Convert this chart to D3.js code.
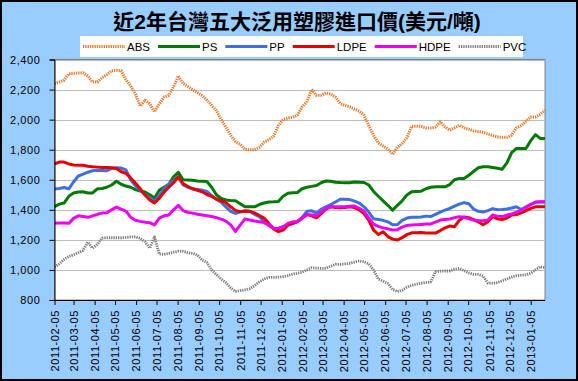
<!DOCTYPE html>
<html><head><meta charset="utf-8">
<script src="https://cdn.jsdelivr.net/npm/d3@7"></script>
<style>
body{margin:0;background:#fff}
svg{display:block}
text{font-family:Arial,"Liberation Sans","Noto Sans CJK TC",sans-serif;fill:#000}
</style>
</head><body>
<svg id="chart" width="578" height="381"></svg>
<script>
// ---------------- data ----------------
const chartTitle = "近2年台灣五大泛用塑膠進口價(美元/噸)";
const seriesNames = ["ABS","PS","PP","LDPE","HDPE","PVC"];
const firstWeek = "2011-02-05";   // weekly observations
const weekCount = 104;
const tickLabels = ["2011-02-05","2011-03-05","2011-04-05","2011-05-05","2011-06-05","2011-07-05",
  "2011-08-05","2011-09-05","2011-10-05","2011-11-05","2011-12-05","2012-01-05","2012-02-05",
  "2012-03-05","2012-04-05","2012-05-05","2012-06-05","2012-07-05","2012-08-05","2012-09-05",
  "2012-10-05","2012-11-05","2012-12-05","2013-01-05"];
const yTickValues = [800,1000,1200,1400,1600,1800,2000,2200,2400];

const ABS = [
2240,2250,2262,2305,2308,2310,2312,2290,2250,2250,
2280,2300,2325,2328,2325,2265,2225,2170,2090,2130,
2105,2052,2105,2150,2162,2218,2290,2240,2220,2200,
2180,2160,2130,2095,2060,2000,1950,1895,1855,1835,
1802,1800,1800,1815,1850,1865,1890,1960,2000,2010,
2015,2030,2085,2120,2200,2162,2162,2178,2170,2150,
2107,2095,2085,2070,2056,2030,1960,1895,1845,1825,
1805,1770,1815,1840,1880,1956,1956,1955,1945,1945,
1950,1985,1952,1930,1945,1963,1945,1935,1925,1920,
1915,1905,1895,1885,1882,1882,1897,1945,1960,1990,
2018,2018,2035,2063];
const PS = [
1420,1438,1445,1490,1512,1518,1520,1512,1512,1540,
1542,1550,1565,1590,1570,1558,1550,1535,1525,1518,
1500,1478,1530,1550,1570,1620,1650,1600,1598,1596,
1592,1590,1588,1550,1500,1475,1465,1462,1460,1440,
1420,1420,1420,1435,1445,1452,1453,1455,1490,1510,
1513,1515,1540,1550,1556,1562,1580,1592,1590,1583,
1581,1580,1580,1585,1584,1582,1565,1522,1490,1460,
1430,1398,1430,1460,1498,1520,1522,1524,1540,1550,
1553,1553,1553,1568,1600,1609,1609,1630,1655,1680,
1686,1686,1682,1676,1670,1712,1780,1808,1808,1808,
1860,1900,1875,1874];
const PP = [
1538,1542,1548,1540,1585,1625,1637,1650,1660,1663,
1662,1660,1675,1680,1678,1665,1600,1560,1530,1500,
1480,1455,1495,1540,1570,1595,1620,1565,1550,1540,
1535,1530,1522,1495,1470,1450,1420,1390,1376,1385,
1392,1390,1370,1355,1320,1295,1278,1276,1290,1300,
1308,1320,1350,1390,1393,1378,1405,1420,1435,1452,
1470,1470,1468,1458,1445,1420,1385,1340,1335,1330,
1320,1300,1302,1330,1345,1350,1350,1352,1358,1355,
1370,1385,1398,1409,1425,1438,1448,1440,1405,1390,
1385,1395,1408,1400,1402,1405,1412,1420,1402,1420,
1436,1450,1452,1452];
const LDPE = [
1705,1718,1718,1705,1698,1697,1696,1690,1686,1684,
1682,1681,1680,1675,1653,1642,1612,1578,1540,1498,
1465,1445,1476,1518,1550,1580,1620,1575,1555,1540,
1530,1520,1502,1490,1470,1460,1448,1420,1396,1388,
1392,1390,1380,1362,1345,1310,1272,1255,1265,1298,
1310,1322,1343,1368,1360,1347,1375,1405,1420,1416,
1413,1416,1420,1415,1400,1375,1330,1265,1236,1254,
1222,1205,1199,1215,1235,1247,1248,1249,1245,1245,
1245,1262,1280,1292,1288,1330,1352,1348,1335,1320,
1300,1320,1354,1340,1335,1345,1365,1368,1380,1395,
1410,1420,1420,1420];
const HDPE = [
1310,1313,1312,1310,1343,1360,1355,1350,1360,1370,
1378,1380,1400,1418,1405,1392,1350,1330,1323,1318,
1314,1300,1345,1360,1365,1400,1430,1395,1383,1378,
1370,1365,1360,1355,1348,1338,1325,1300,1256,1298,
1340,1332,1325,1320,1315,1300,1278,1276,1285,1310,
1320,1322,1345,1368,1365,1360,1385,1410,1420,1420,
1420,1420,1423,1425,1410,1390,1345,1305,1290,1280,
1274,1265,1268,1285,1296,1299,1301,1303,1305,1306,
1318,1332,1336,1339,1348,1354,1350,1340,1332,1328,
1327,1332,1365,1358,1355,1365,1372,1385,1395,1415,
1435,1452,1453,1453];
const PVC = [
1020,1040,1070,1090,1100,1115,1130,1185,1145,1170,
1212,1214,1214,1214,1214,1216,1220,1220,1210,1188,
1145,1220,1105,1104,1110,1118,1125,1124,1115,1110,
1100,1065,1050,1000,970,940,915,880,857,862,
868,875,895,920,940,950,950,952,955,962,
972,978,985,1000,1015,1012,1011,1011,1025,1037,
1037,1040,1044,1052,1060,1055,1040,1000,940,925,
910,870,856,865,885,898,906,911,916,920,
988,992,993,993,1005,1010,995,980,971,971,
960,912,912,915,928,940,952,962,965,968,
977,1000,1022,1015];

// ---------------- styles ----------------
const seriesValues = [ABS, PS, PP, LDPE, HDPE, PVC];
const seriesStyle = [
  {color:"#E47A2E", width:3, dash:"1.3 1"},
  {color:"#007A00", width:3, dash:null},
  {color:"#3D6FE0", width:3, dash:null},
  {color:"#E80000", width:3, dash:null},
  {color:"#F000F0", width:3, dash:null},
  {color:"#7D7D7D", width:2.8, dash:"1.3 1"}
];

const W = 578, H = 381;
const plot = {left:54.5, right:545, top:59.5, bottom:300};
const parse = d3.timeParse("%Y-%m-%d");
const t0 = parse(firstWeek);
const weeks = d3.range(weekCount).map(i => d3.timeDay.offset(t0, 7*i));

const svg = d3.select("#chart");
svg.append("rect").attr("x",1).attr("y",1).attr("width",W-2).attr("height",H-2)
  .attr("fill","#99CCFF").attr("stroke","#000").attr("stroke-width",2);

const x = d3.scaleTime().domain([weeks[0], weeks[weeks.length-1]]).range([plot.left, plot.right]);
const y = d3.scaleLinear().domain([800,2400]).range([plot.bottom, plot.top]);

svg.append("rect").attr("x",plot.left).attr("y",plot.top)
  .attr("width",plot.right-plot.left).attr("height",plot.bottom-plot.top)
  .attr("fill","#fff").attr("stroke","#808080").attr("stroke-width",1);

// gridlines
svg.append("g").selectAll("line").data(yTickValues.filter(v=>v>800)).join("line")
  .attr("x1",plot.left).attr("x2",plot.right)
  .attr("y1",d=>Math.round(y(d))+0.5).attr("y2",d=>Math.round(y(d))+0.5)
  .attr("stroke","#BDBDBD").attr("stroke-width",1);

// series
const line = d3.line().x((d,i)=>x(weeks[i])).y(d=>y(d));
const gS = svg.append("g");
seriesValues.forEach((vals,k)=>{
  const s = seriesStyle[k];
  gS.append("path").datum(vals).attr("d",line)
    .attr("fill","none").attr("stroke",s.color).attr("stroke-width",s.width)
    .attr("stroke-linejoin","round")
    .attr("stroke-dasharray",s.dash);
});

// axes
const yAxis = d3.axisLeft(y).tickValues(yTickValues).tickSize(5).tickPadding(9)
  .tickFormat(d3.format(","));
const gy = svg.append("g").attr("transform",`translate(${plot.left},0)`).call(yAxis);
gy.select(".domain").attr("stroke","#000");
gy.selectAll("text").style("font-size","11px").style("letter-spacing","0.6px");

const tickDates = tickLabels.map(parse);
const xAxis = d3.axisBottom(x).tickValues(tickDates).tickSize(5)
  .tickFormat((d,i)=>tickLabels[i]);
const gx = svg.append("g").attr("transform",`translate(0,${plot.bottom})`).call(xAxis);
gx.select(".domain").attr("d",`M${plot.left},0.5H${plot.right}`).attr("stroke","#000");
gx.selectAll("text").attr("transform","rotate(-90)").attr("x",-10).attr("y",0)
  .attr("dy","0.35em").style("text-anchor","end")
  .style("font-size","11px").style("letter-spacing","0.6px");

// title
svg.append("text").attr("x",297).attr("y",29).attr("text-anchor","middle")
  .style("font-size","21px").style("font-weight","bold").text(chartTitle);

// legend
const lg = svg.append("g");
lg.append("rect").attr("x",80).attr("y",36).attr("width",443).attr("height",21).attr("fill","#fff");
let lx = 83;
const ly = 46.5;
seriesNames.forEach((name,k)=>{
  const s = seriesStyle[k];
  lg.append("line").attr("x1",lx).attr("x2",lx+42).attr("y1",ly).attr("y2",ly)
    .attr("stroke",s.color).attr("stroke-width",s.width).attr("stroke-dasharray",s.dash);
  const t = lg.append("text").attr("x",lx+44).attr("y",ly).attr("dy","0.36em")
    .style("font-size","11.5px").text(name);
  lx += 44 + t.node().getComputedTextLength() + 8;
});
</script>
</body></html>
